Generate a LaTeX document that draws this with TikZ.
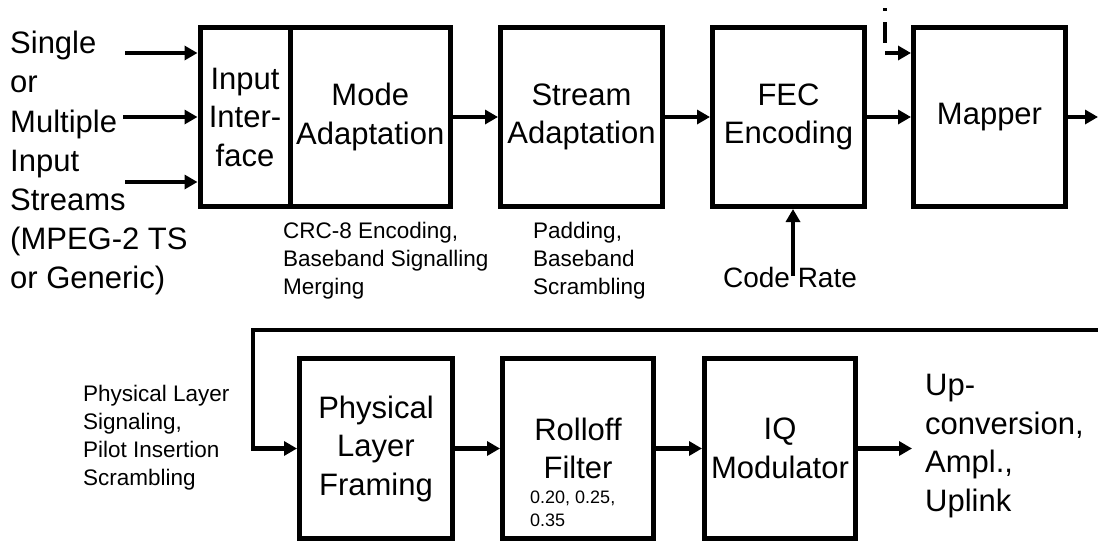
\documentclass[tikz,border=0pt]{standalone}
\usepackage{fontspec}
\setmainfont{Liberation Sans}
\usetikzlibrary{arrows.meta}
\begin{document}
\begin{tikzpicture}[x=1pt,y=-1pt,
  bigtxt/.style={font=\fontsize{31}{38.5}\selectfont},
  lefttxt/.style={font=\fontsize{31}{39.2}\selectfont},
  smalltxt/.style={font=\fontsize{22.5}{28}\selectfont},
  midtxt/.style={font=\fontsize{28}{34}\selectfont},
  tinytxt/.style={font=\fontsize{18}{23}\selectfont},
  box/.style={draw, line width=5pt, inner sep=0pt, align=center, bigtxt, minimum height=179pt},
  lowbox/.style={box, minimum height=180pt},
  note/.style={inner sep=0pt, align=left, anchor=north west},
  arr/.style={line width=4.5pt, -{Triangle[length=13pt,width=14pt]}},
  dashln/.style={line width=4pt},
]
\useasboundingbox (0,0) rectangle (1098,541);

% top row
\node[box, minimum width=90pt] (inif) at (245,117) {Input\\Inter-\\face};
\node[box, minimum width=160.5pt] (mode) at (370.25,117) {Mode\\Adaptation};
\node[box, minimum width=162pt] (stream) at (581.5,117) {Stream\\Adaptation};
\node[box, minimum width=152pt] (fec) at (788.5,117) {FEC\\Encoding};
\node[box, minimum width=152pt] (mapper) at (989.5,117) {Mapper};

% bottom row
\node[lowbox, minimum width=153pt] (phys) at (376,448.5) {Physical\\Layer\\Framing};
\node[lowbox, minimum width=151pt] (roll) at (578,448.5) {Rolloff\\Filter};
\node[lowbox, minimum width=151pt] (iq) at (780,448.5) {IQ\\Modulator};

% texts
\node[note, lefttxt] (intext) at (10,31) {Single\\or\\Multiple\\Input\\Streams\\(MPEG-2 TS\\or Generic)};
\node[note, smalltxt] (crc) at (283,222) {CRC-8 Encoding,\\Baseband Signalling\\Merging};
\node[note, smalltxt] (pad) at (533,222) {Padding,\\Baseband\\Scrambling};
\node[inner sep=0pt, anchor=north, midtxt] (code) at (790,267) {Code Rate};
\node[note, smalltxt] (plsig) at (83,385) {Physical Layer\\Signaling,\\Pilot Insertion\\Scrambling};
\node[note, tinytxt] (roff) at (530,491) {0.20, 0.25,\\0.35};
\node[note, bigtxt] (upc) at (925,374) {Up-\\conversion,\\Ampl.,\\Uplink};

% free ends
\coordinate (in1) at (125,53);
\coordinate (in2) at (123,117);
\coordinate (in3) at (125,182);
\coordinate (crs) at (793,276);
\coordinate (mapin) at (885,53);
\coordinate (dashA) at (885,8);
\coordinate (dashB) at (885,10.5);
\coordinate (dashC) at (885,22);
\coordinate (dashD) at (885,43);
\coordinate (mapout) at (1098,117);
\coordinate (wrapin) at (1098,330);
\coordinate (wrapc) at (253,330);
\coordinate (upout) at (912,448.5);

% connectors
\draw[arr] (in1) -- (in1 -| inif.west);
\draw[arr] (in2) -- (in2 -| inif.west);
\draw[arr] (in3) -- (in3 -| inif.west);
\draw[arr] (mode.east) -- (stream.west);
\draw[arr] (stream.east) -- (fec.west);
\draw[arr] (fec.east) -- (mapper.west);
\draw[arr] (mapper.east) -- (mapout);
\draw[arr] (crs) -- (crs |- fec.south);
\draw[dashln] (dashA) -- (dashB);
\draw[dashln] (dashC) -- (dashD);
\draw[arr] (mapin) -- (mapin -| mapper.west);
\draw[arr] (wrapin) -- (wrapc) |- (phys.west);
\draw[arr] (phys.east) -- (roll.west);
\draw[arr] (roll.east) -- (iq.west);
\draw[arr] (iq.east) -- (upout);
\end{tikzpicture}
\end{document}
